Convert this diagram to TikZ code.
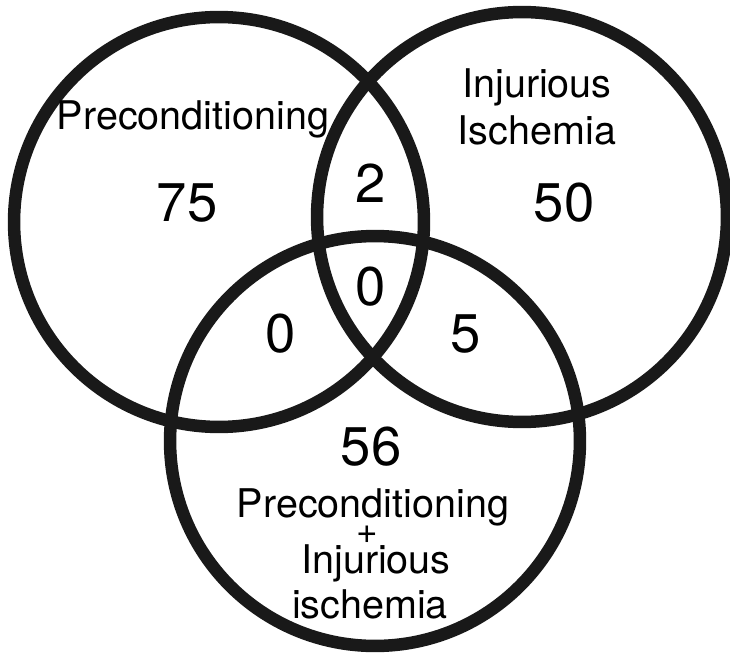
\documentclass[tikz,border=0pt]{standalone}
\usepackage{fontspec}
\setmainfont{TeX Gyre Heros}
\usepackage{tikz}
\usetikzlibrary{positioning}
\tikzset{
  setring/.style  = {circle, draw=black!90, line width=0.25cm, inner sep=0pt,
                     minimum size=8.2cm},
  setlabel/.style = {anchor=base, inner sep=0pt,
                     font=\fontsize{22.5}{25}\selectfont},
  count/.style    = {anchor=base, inner sep=0pt,
                     font=\fontsize{31}{34}\selectfont},
}

\begin{document}
\begin{tikzpicture}[x=0.02cm, y=-0.02cm]
  \useasboundingbox (0,0) rectangle (730,655);

  % ----- the three sets -----
  \node[setring] (precond) at (219,222) {};
  \node[setring] (injury)  at (522,217) {};
  \node[setring] (both)    at (375,441) {};

  % ----- set names -----
  \node[setlabel] (precname) at (193,130) {Preconditioning};
  \node[setlabel] (injname1) at (537,98)  {Injurious};
  \node[setlabel] (injname2) at (537,145) {Ischemia};

  \node[setlabel] (bothname1) at (373,517) {Preconditioning};
  \node[font=\fontsize{21}{24}\selectfont, inner sep=0pt] (bothplus) at (367,535) {+};
  \node[setlabel] (bothname2) at (376,573) {Injurious};
  \node[setlabel] (bothname3) at (370,618) {ischemia};

  % ----- counts -----
  \node[count] (nprec)  at (187,222) {75};
  \node[count] (ninj)   at (564,222) {50};
  \node[count] (npi)    at (371,203) {2};
  \node[count] (nall)   at (371,305) {0};
  \node[count] (npb)    at (281,352) {0};
  \node[count] (nib)    at (466,352) {5};
  \node[count] (nboth)  at (371,465) {56};

\end{tikzpicture}
\end{document}
